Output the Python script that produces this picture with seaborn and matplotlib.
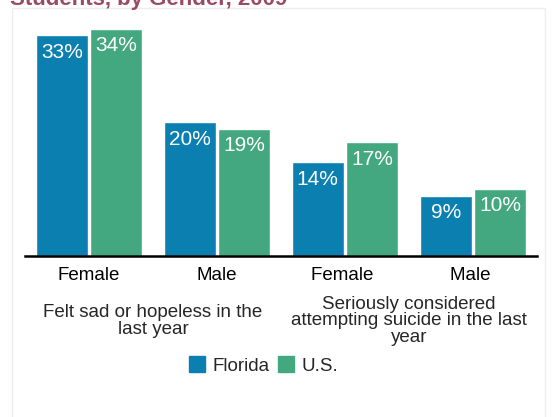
import matplotlib

matplotlib.use("Agg")
import matplotlib.pyplot as plt
import matplotlib.patches as mpatches
import pandas as pd
import seaborn as sns

categories = ["Female", "Male", "Female ", "Male "]
florida = [33, 20, 14, 9]
us = [34, 19, 17, 10]
series = ["Florida", "U.S."]
group_labels = [
    "Felt sad or hopeless in the\nlast year",
    "Seriously considered\nattempting suicide in the last\nyear",
]
title = "Students, by Gender, 2009"

colors = {"Florida": "#0a7fb0", "U.S.": "#43a880"}

df = pd.DataFrame(
    {
        "cat": categories * 2,
        "val": florida + us,
        "series": ["Florida"] * 4 + ["U.S."] * 4,
    }
)

sns.set_style("white")
plt.rcParams["font.family"] = ["Liberation Sans", "DejaVu Sans"]

fig = plt.figure(figsize=(5.53, 4.17), dpi=100)
fig.patch.set_facecolor("white")

# faint panel frame
fig.patches.append(
    mpatches.Rectangle(
        (12 / 553, -0.05), (545 - 12) / 553, 1.05 - 8 / 417,
        transform=fig.transFigure, fill=False, edgecolor="#eeeeee", linewidth=1,
    )
)

ax = fig.add_axes([25 / 553, (417 - 256) / 417, 512 / 553, 234 / 417])
sns.barplot(
    data=df, x="cat", y="val", hue="series", palette=colors,
    order=categories, hue_order=series, width=0.85, gap=0.04,
    saturation=1, legend=False, ax=ax,
)
ax.set_ylim(0, 35)
ax.set_xlim(-0.5, 3.5)
ax.set_xlabel("")
ax.set_ylabel("")
ax.set_yticks([])
for s in ["top", "right", "left"]:
    ax.spines[s].set_visible(False)
ax.spines["bottom"].set_linewidth(1.8)
ax.spines["bottom"].set_color("black")
ax.tick_params(axis="x", length=0, labelsize=13.5, pad=8, colors="black")

for cont in ax.containers:
    for bar in cont:
        h = bar.get_height()
        ax.text(
            bar.get_x() + bar.get_width() / 2, h - 1.1, f"{h:.0f}%",
            ha="center", va="top", color="white", fontsize=15,
        )

for gx, lab in zip([0.5, 2.5], group_labels):
    ax.text(
        gx, -0.277, lab, transform=ax.get_xaxis_transform(),
        ha="center", va="center", fontsize=13.5, linespacing=0.97,
    )

handles = [
    plt.Line2D([], [], marker="s", linestyle="", markersize=11,
               color=colors[s], label=s)
    for s in series
]
fig.legend(
    handles=handles, loc="center", bbox_to_anchor=(263 / 553, 1 - 366 / 417),
    ncol=2, frameon=False, fontsize=13.5, handletextpad=0.3,
    columnspacing=0.4, handlelength=1.0,
)

fig.text(10 / 553, 1 - 5 / 417, title, ha="left", va="baseline",
         fontsize=16, fontweight="bold", color="#9b4a66")

fig.savefig("out.png", dpi=100)
